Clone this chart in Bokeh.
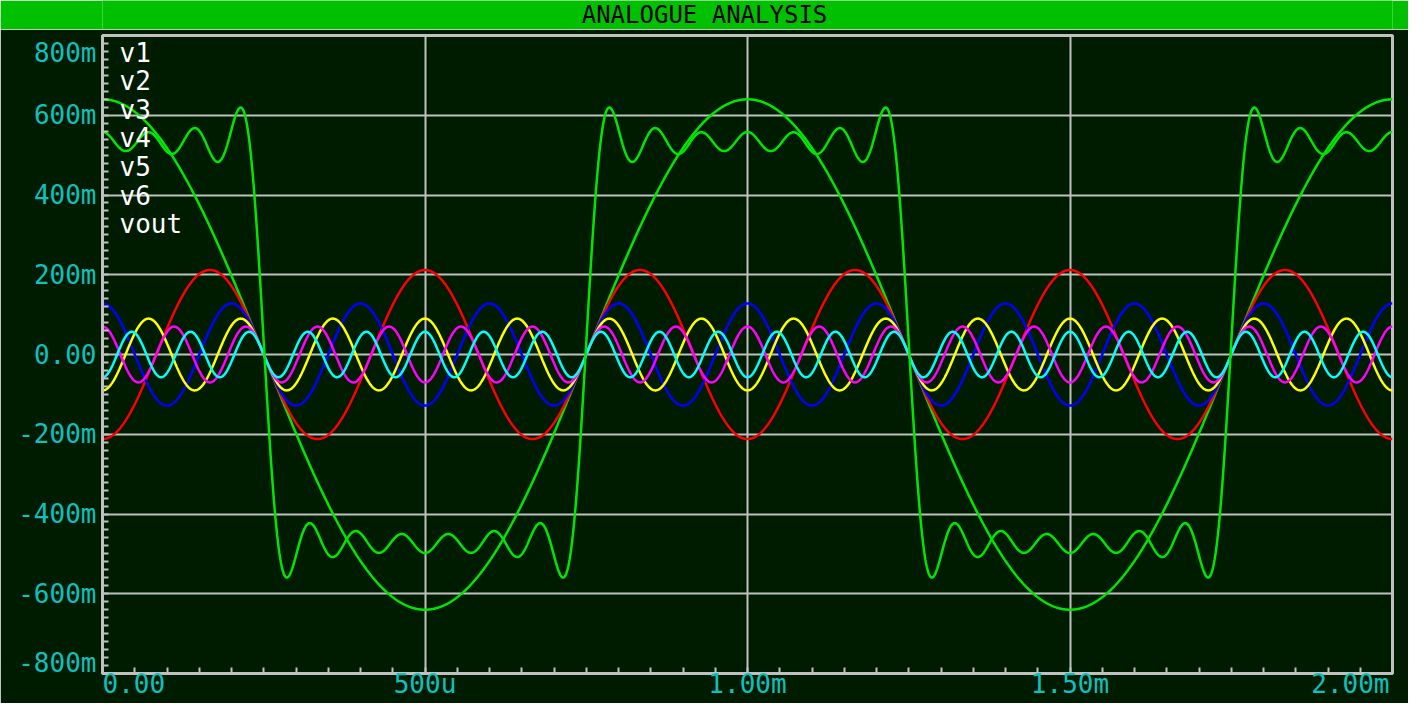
import numpy as np
from bokeh.plotting import figure
from bokeh.layouts import column
from bokeh.models import Range1d, FixedTicker
from bokeh.core.properties import value
from bokeh.embed import file_html
from bokeh.resources import INLINE

# ---------------- data ----------------
title_text = "ANALOGUE ANALYSIS"
fundamental_period_ms = 1.0
series_names = ["v1", "v2", "v3", "v4", "v5", "v6"]
harmonic_orders = [1, 3, 5, 7, 9, 11]
start_values_mv = [640, -212, 128, -90, 70, -57]      # value of each trace at t = 0 (mV)
series_colors = ["#00e600", "#ff0000", "#0000ff", "#ffff00", "#ff00ff", "#00ffff"]

vout_name = "vout"
vout_orders = [1, 3, 5, 7, 9, 11, 13]
vout_start_values_mv = [640, -212, 128, -90, 70, -57, 49]
vout_offset_mv = 30
vout_color = "#00e600"

x_ticks_ms = [0, 0.5, 1, 1.5, 2]
x_tick_labels = ["0.00", "500u", "1.00m", "1.50m", "2.00m"]
y_ticks_mv = [-800, -600, -400, -200, 0, 200, 400, 600, 800]
y_tick_labels = ["-800m", "-600m", "-400m", "-200m", "0.00", "200m", "400m", "600m", "800m"]
x_minor_step_ms = 0.05
y_minor_step_mv = 20

# ---------------- styling / layout ----------------
BG = "#001c00"
BAR = "#00c000"
GRID = "#c0c0c0"
LABEL = "#10c0c0"
FONT = "DejaVu Sans Mono"
W = 1408
BAR_H = 29
MAIN_H = 703 - BAR_H
B_LEFT, B_RIGHT, B_TOP, B_BOTTOM = 102, 16, 6, 30
FRAME_W = W - B_LEFT - B_RIGHT
FRAME_H = MAIN_H - B_TOP - B_BOTTOM
LAB_PX = 26
CHAR_W = 0.602 * LAB_PX

X0, X1 = x_ticks_ms[0], x_ticks_ms[-1]
Y0, Y1 = y_ticks_mv[0], y_ticks_mv[-1]
ms_per_px = (X1 - X0) / FRAME_W
mv_per_px = (Y1 - Y0) / FRAME_H

t = np.linspace(X0, X1, 2401)


def trace(orders, starts, offset=0.0):
    y = np.full_like(t, float(offset))
    for n, a in zip(orders, starts):
        y += a * np.cos(2 * np.pi * n * t / fundamental_period_ms)
    return y


# ---------------- title bar ----------------
bar = figure(width=W, height=BAR_H, x_range=Range1d(0, 1), y_range=Range1d(0, 1),
             output_backend="svg", toolbar_location=None,
             x_axis_type=None, y_axis_type=None,
             min_border_left=B_LEFT, min_border_right=B_RIGHT,
             min_border_top=0, min_border_bottom=0,
             background_fill_color=BAR, border_fill_color=BAR)
bar.outline_line_color = None
bar.grid.visible = False
bar.text(x=[(W / 2 - B_LEFT) / FRAME_W], y=[0.5], text=[title_text],
         text_align="center", text_baseline="middle", text_color="black",
         text_font=value(FONT), text_font_size="24px")

# ---------------- main plot ----------------
p = figure(width=W, height=MAIN_H, x_range=Range1d(X0, X1), y_range=Range1d(Y0, Y1),
           output_backend="svg", toolbar_location=None,
           background_fill_color=BG, border_fill_color=BG,
           min_border_left=B_LEFT, min_border_right=B_RIGHT,
           min_border_top=B_TOP, min_border_bottom=B_BOTTOM)
p.outline_line_color = GRID
p.outline_line_width = 3

# end labels are pulled inside the frame span, as in the original
x_label_pos = list(x_ticks_ms)
x_label_pos[0] = X0 + (len(x_tick_labels[0]) * CHAR_W / 2) * ms_per_px
x_label_pos[-1] = X1 - (3 + len(x_tick_labels[-1]) * CHAR_W / 2) * ms_per_px
y_label_pos = list(y_ticks_mv)
y_label_pos[-1] = Y1 - 17 * mv_per_px
y_label_pos[0] = Y0 + 11 * mv_per_px

x_minor = [round(v, 4) for v in np.arange(X0, X1 + 1e-9, x_minor_step_ms)]
y_minor = list(range(Y0, Y1 + 1, y_minor_step_mv))
p.xaxis.ticker = FixedTicker(ticks=x_label_pos, minor_ticks=x_minor)
p.yaxis.ticker = FixedTicker(ticks=y_label_pos, minor_ticks=y_minor)
p.xaxis.major_label_overrides = dict(zip(x_label_pos, x_tick_labels))
p.yaxis.major_label_overrides = dict(zip(y_label_pos, y_tick_labels))
p.xgrid.ticker = FixedTicker(ticks=x_ticks_ms)
p.ygrid.ticker = FixedTicker(ticks=y_ticks_mv)

for ax in (p.xaxis[0], p.yaxis[0]):
    ax.axis_line_color = GRID
    ax.axis_line_width = 3
    ax.major_tick_line_color = None
    ax.major_tick_in = 0
    ax.major_tick_out = 0
    ax.minor_tick_in = 6
    ax.minor_tick_out = 0
    ax.minor_tick_line_color = GRID
    ax.minor_tick_line_width = 2
    ax.major_label_text_font = FONT
    ax.major_label_text_font_size = f"{LAB_PX}px"
    ax.major_label_text_color = LABEL
p.xaxis.major_label_standoff = -5
p.yaxis.major_label_standoff = 6

p.grid.grid_line_color = GRID
p.grid.grid_line_width = 2

# ---------------- traces ----------------
for name, n, a, c in zip(series_names, harmonic_orders, start_values_mv, series_colors):
    p.line(t, trace([n], [a]), line_color=c, line_width=2.5)
p.line(t, trace(vout_orders, vout_start_values_mv, vout_offset_mv),
       line_color=vout_color, line_width=2.5)

# trace name list in the top-left corner
names = series_names + [vout_name]
p.text(x=[X0 + 17 * ms_per_px] * len(names),
       y=[Y1 - (17 + 28.6 * i) * mv_per_px for i in range(len(names))],
       text=names, text_color="white", text_align="left", text_baseline="middle",
       text_font=value(FONT), text_font_size="26px")

layout = column(bar, p)

open("out.html", "w").write(file_html(layout, INLINE))
